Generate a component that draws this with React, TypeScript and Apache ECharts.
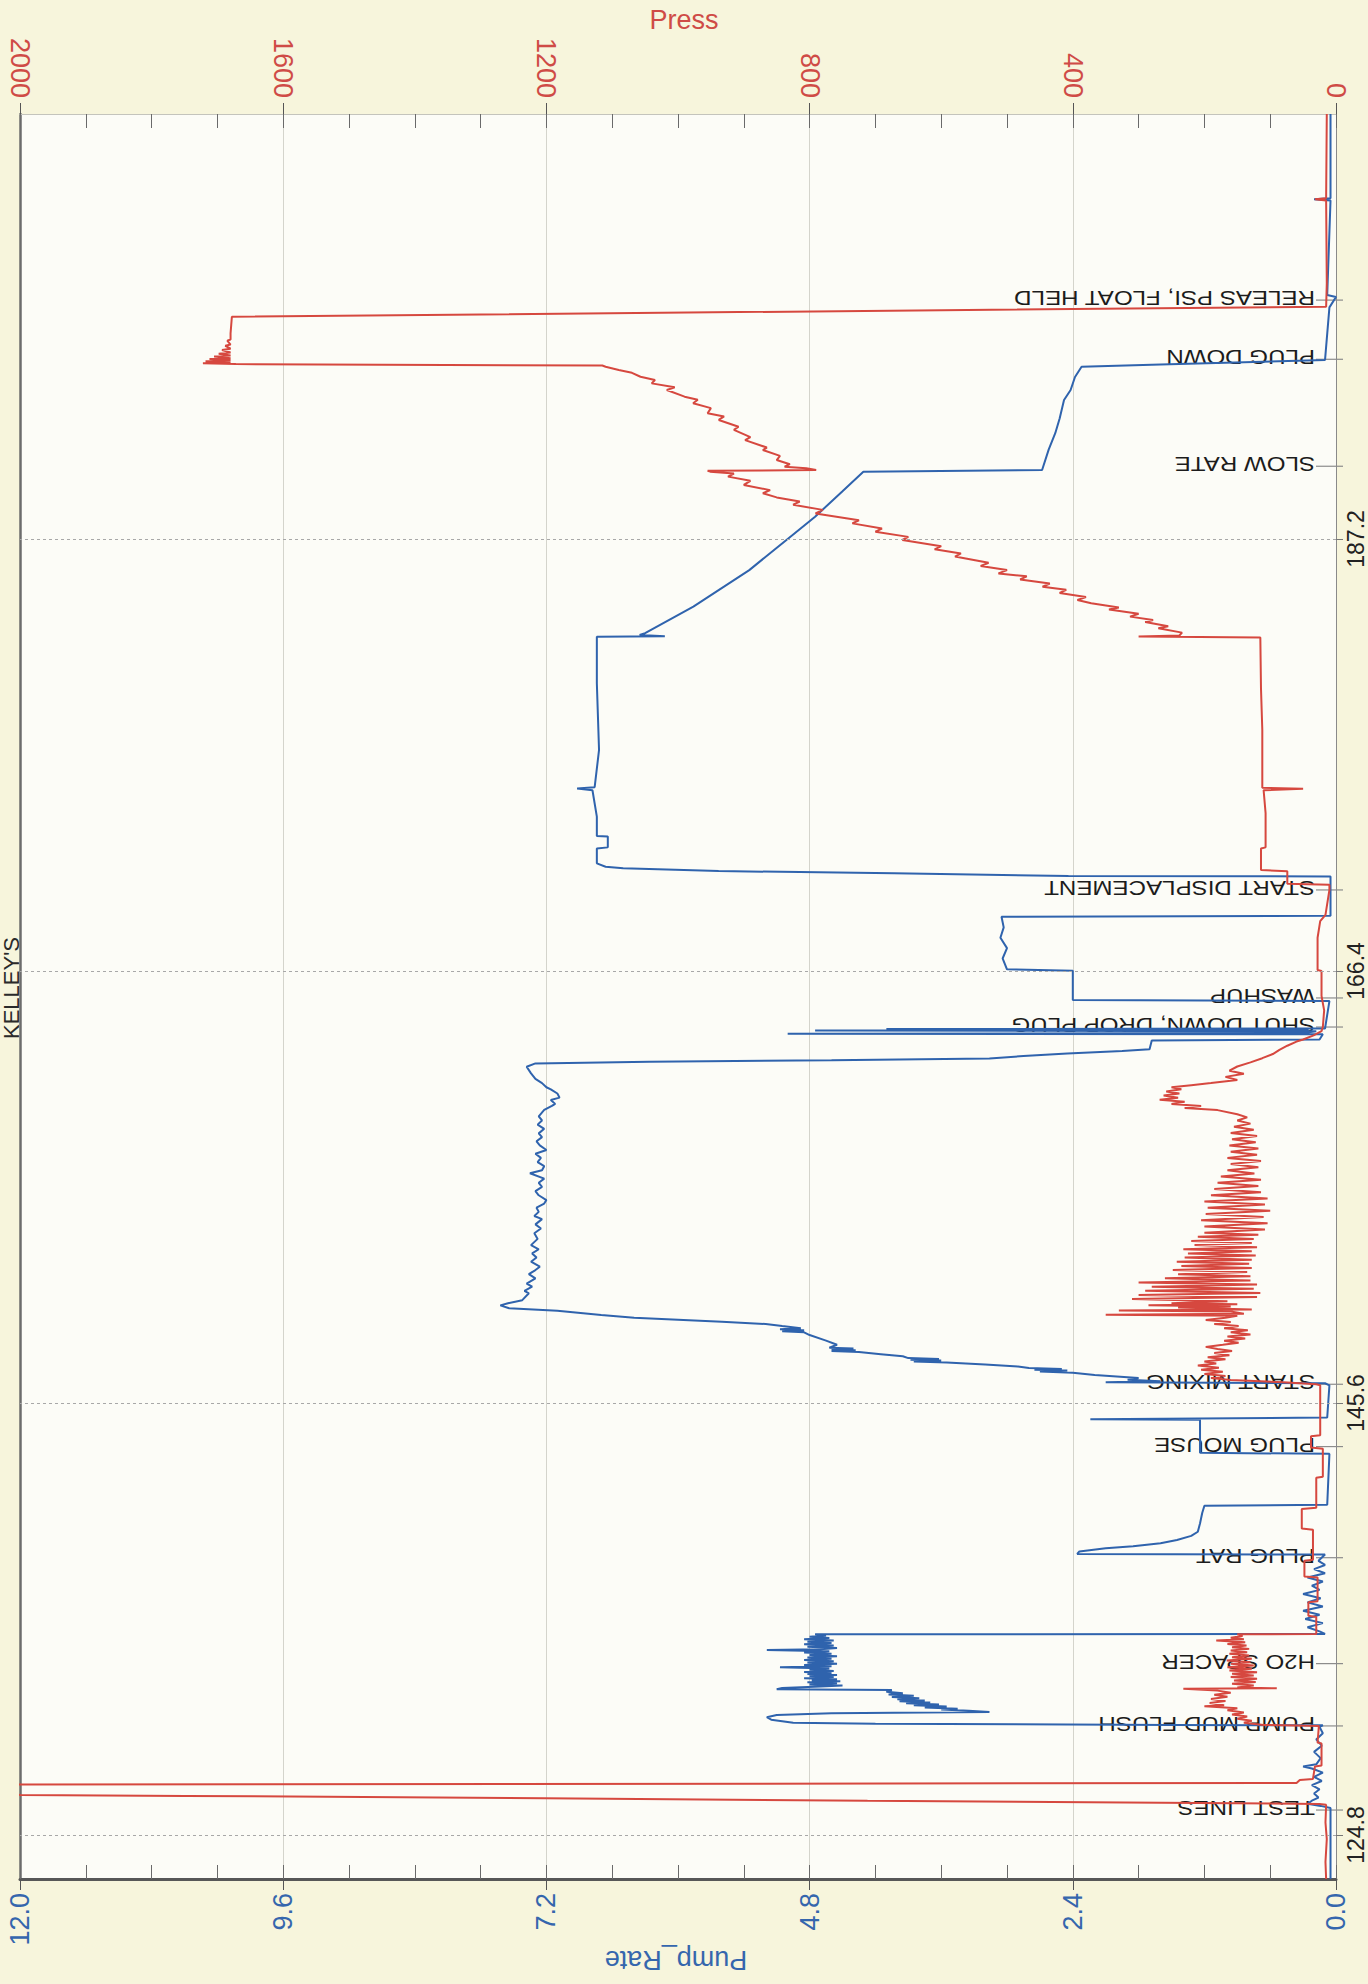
import React, { useEffect, useRef } from 'react';
import * as echarts from 'echarts';

const FONT = 'Liberation Sans, Arial, sans-serif';
const BLUE = '#2f63ad';
const RED = '#d6483f';
const LABEL_BLUE = '#3566ad';
const LABEL_RED = '#cf4b46';

const TIME_MIN = 122.68;
const TIME_MAX = 207.66;
const timeTicks = [124.8, 145.6, 166.4, 187.2];

const eventNames = [
  'TEST LINES', 'PUMP MUD FLUSH', 'H2O SPACER', 'PLUG RAT', 'PLUG MOUSE', 'START MIXING',
  'SHUT DOWN, DROP PLUG', 'WASHUP', 'START DISPLACEMENT', 'SLOW RATE', 'PLUG DOWN', 'RELEAS PSI, FLOAT HELD',
];
const eventTimes = [126.0, 130.05, 133.05, 138.15, 143.5, 146.5, 163.7, 165.1, 170.3, 190.7, 195.85, 198.7];

// ---- Press (time, psi) ----
const pressPreTest = [
  [122.68, 15], [123.5, 16], [124.6, 14], [125.4, 16], [126.25, 15],
];
const pressTestLines = [
  [126.29, 25], [126.33, 154], [126.45, 712], [126.57, 1203], [126.68, 1748], [126.73, 2000],
  [126.85, 2350], [127.1, 2380], [127.2, 2150], [127.23, 2000], [127.3, 60],
];
const pressPreFlush = [
  [127.45, 55], [127.5, 35], [128.1, 32], [128.15, 22], [129.2, 22], [129.25, 28], [130.05, 26],
];
const pressFlushSpacer = [
  [130.1, 110], [130.2, 140], [130.3, 128], [130.4, 150], [130.5, 135], [130.6, 158], [130.7, 140],
  [130.8, 165], [130.9, 150], [131.0, 200], [131.05, 170], [131.15, 192], [131.25, 168], [131.35, 190],
  [131.45, 165], [131.55, 185], [131.65, 160], [131.75, 180], [131.84, 232], [131.86, 90], [131.9, 150],
  [132.0, 125], [132.08, 158], [132.16, 122], [132.24, 155], [132.32, 120], [132.4, 160], [132.48, 125],
  [132.56, 158], [132.64, 120], [132.72, 162], [132.8, 128], [132.88, 165], [132.96, 125], [133.04, 160],
  [133.12, 130], [133.2, 166], [133.28, 128], [133.36, 158], [133.44, 132], [133.52, 162], [133.6, 135],
  [133.68, 160], [133.76, 132], [133.84, 158], [133.92, 136], [134.0, 165], [134.08, 138], [134.16, 182],
  [134.22, 140], [134.3, 160], [134.38, 142], [134.46, 150], [134.48, 30],
];
const pressPlugs = [
  [134.6, 30], [135.3, 30], [135.35, 42], [136.0, 42], [136.05, 28], [137.2, 28], [137.25, 48], [138.0, 48],
  [138.05, 35], [139.5, 35], [139.55, 52], [140.5, 52], [140.55, 30], [142.0, 30], [142.05, 20], [143.4, 20],
  [143.45, 38], [144.0, 38], [144.05, 24], [146.45, 24],
];
const pressMixing = [
  [146.5, 30], [146.6, 80], [146.7, 160], [146.8, 190], [146.9, 168], [147.0, 200], [147.1, 172], [147.2, 205],
  [147.3, 178], [147.4, 210], [147.5, 182], [147.6, 200], [147.7, 168], [147.8, 195], [147.9, 162], [148.0, 185],
  [148.1, 158], [148.2, 180], [148.3, 198], [148.4, 172], [148.5, 148], [148.6, 170], [148.7, 138], [148.8, 165],
  [148.9, 130], [149.0, 160], [149.1, 134], [149.2, 170], [149.3, 148], [149.4, 185], [149.5, 160], [149.6, 198],
  [149.7, 168], [149.8, 150], [149.85, 350], [149.9, 140], [150.0, 160], [150.05, 330], [150.1, 128], [150.2, 240],
  [150.25, 160], [150.3, 285], [150.35, 150], [150.4, 250], [150.5, 165], [150.6, 310], [150.7, 120], [150.8, 300],
  [150.9, 115], [151.0, 290], [151.1, 125], [151.2, 280], [151.3, 120], [151.4, 300], [151.5, 130], [151.6, 260],
  [151.7, 130], [151.8, 240], [151.9, 135], [152.0, 248], [152.1, 128], [152.2, 235], [152.3, 132], [152.4, 242],
  [152.5, 128], [152.6, 230], [152.7, 122], [152.8, 225], [152.9, 128], [153.0, 232], [153.1, 120], [153.2, 215],
  [153.3, 128], [153.4, 220], [153.5, 125], [153.6, 210], [153.7, 118], [153.8, 200], [153.95, 108], [154.1, 200],
  [154.25, 104], [154.4, 205], [154.55, 110], [154.7, 198], [154.85, 100], [155.0, 195], [155.15, 108], [155.3, 200],
  [155.45, 104], [155.6, 190], [155.75, 114], [155.9, 185], [156.05, 118], [156.2, 180], [156.35, 114], [156.5, 175],
  [156.65, 124], [156.8, 165], [156.95, 118], [157.1, 160], [157.25, 114], [157.4, 165], [157.55, 120], [157.7, 160],
  [157.85, 118], [158.0, 162], [158.15, 122], [158.3, 158], [158.45, 120], [158.6, 160], [158.75, 125], [158.9, 155],
  [159.05, 130], [159.2, 150], [159.35, 135], [159.5, 150], [159.7, 180], [159.8, 230], [159.9, 205], [160.0, 250],
  [160.1, 230], [160.2, 268], [160.3, 240], [160.4, 262], [160.5, 238], [160.6, 258], [160.7, 235], [160.8, 250],
  [160.9, 220], [161.0, 190], [161.15, 150], [161.3, 168], [161.45, 140], [161.6, 162], [161.8, 150], [162.0, 130],
  [162.2, 112], [162.4, 96], [162.6, 86], [162.8, 74], [163.0, 60], [163.1, 50], [163.3, 34], [163.5, 22],
];
const pressWashup = [
  [163.7, 20], [164.5, 18], [165.2, 22], [166.4, 22], [166.45, 28], [168.0, 28], [168.8, 24], [169.1, 16],
  [170.3, 10], [170.55, 10], [170.6, 74], [171.2, 74], [171.26, 114],
];
const pressDisplacement = [
  [172.3, 114], [172.35, 107], [174.0, 107], [175.1, 110], [175.17, 50], [175.22, 112], [178.0, 112],
  [180.0, 114], [182.45, 115],
];
const pressLift = [
  [182.5, 300], [182.55, 238], [182.69, 234], [182.9, 270], [183.0, 255], [183.2, 290], [183.3, 278],
  [183.46, 313], [183.6, 300], [183.8, 345], [183.9, 330], [184.1, 372], [184.26, 393], [184.4, 380],
  [184.6, 420], [184.75, 410], [184.9, 446], [185.05, 435], [185.25, 480], [185.4, 470], [185.54, 513],
  [185.7, 500], [185.9, 540], [186.05, 528], [186.35, 579], [186.5, 570], [186.7, 610], [186.85, 600],
  [187.15, 659], [187.3, 650], [187.55, 700], [187.7, 690], [187.95, 735], [188.1, 725], [188.43, 791],
  [188.6, 780], [188.85, 825], [189.0, 815], [189.2, 850], [189.4, 871], [189.55, 860], [189.8, 900],
  [190.0, 890], [190.2, 924], [190.35, 915], [190.44, 951], [190.48, 955], [190.52, 790], [190.6, 805],
  [190.68, 838], [190.8, 830], [191.0, 850], [191.2, 845], [191.48, 871], [191.6, 865], [191.96, 898],
  [192.1, 890], [192.45, 915], [192.6, 908], [192.93, 938], [193.1, 930], [193.25, 955], [193.5, 950],
  [193.73, 977], [193.9, 970], [194.05, 990], [194.37, 1017], [194.5, 1005], [194.69, 1040], [194.85, 1035],
  [195.01, 1057], [195.2, 1070], [195.33, 1090], [195.49, 1110], [195.55, 1115],
];
const pressPlugBump = [
  [195.62, 1672], [195.66, 1722], [195.7, 1680], [195.76, 1718], [195.8, 1680], [195.86, 1712], [195.9, 1680],
  [195.98, 1705], [196.03, 1680], [196.12, 1698], [196.18, 1680], [196.3, 1693], [196.36, 1680], [196.5, 1688],
  [196.56, 1680], [196.75, 1685], [196.8, 1680], [197.1, 1680], [197.9, 1678], [198.38, 15],
];
const pressAfter = [
  [199.5, 14], [203.5, 15], [203.55, 32], [203.6, 15], [207.66, 14],
];

// ---- Pump_Rate (time, bbl/min) ----
const ratePreFlush = [
  [122.68, 0.05], [126.1, 0.05], [126.2, 0.14], [126.3, 0.26], [126.45, 0.22], [126.6, 0.16], [126.8, 0.2],
  [127.0, 0.15], [127.2, 0.22], [127.4, 0.13], [127.6, 0.2], [127.8, 0.12], [128.0, 0.22], [128.1, 0.3],
  [128.2, 0.18], [128.5, 0.14], [128.8, 0.2], [129.1, 0.13], [129.4, 0.18], [129.7, 0.12], [130.0, 0.15],
  [130.08, 0.12],
];
const rateFlushSpacer = [
  [130.1, 1.5], [130.15, 4.2], [130.2, 4.95], [130.35, 5.15], [130.47, 5.19], [130.58, 5.1], [130.66, 4.6],
  [130.72, 3.16], [130.78, 3.35], [130.84, 3.6], [130.88, 3.45], [130.94, 3.75], [130.98, 3.55], [131.04, 3.85],
  [131.08, 3.62], [131.14, 3.92], [131.18, 3.7], [131.24, 3.98], [131.28, 3.75], [131.34, 4.0], [131.38, 3.8],
  [131.44, 4.05], [131.5, 3.85], [131.56, 4.08], [131.62, 3.95], [131.7, 4.1], [131.78, 4.05], [131.82, 5.1],
  [131.88, 5.05], [131.95, 4.7], [132.0, 4.5], [132.05, 4.8], [132.1, 4.55], [132.15, 4.82], [132.2, 4.52],
  [132.25, 4.78], [132.3, 4.55], [132.35, 4.85], [132.4, 4.58], [132.45, 4.8], [132.5, 4.55], [132.55, 4.82],
  [132.6, 4.6], [132.65, 4.85], [132.7, 4.58], [132.75, 4.8], [132.82, 4.62], [132.88, 5.07], [132.92, 4.6],
  [132.98, 4.85], [133.04, 4.55], [133.1, 4.82], [133.16, 4.58], [133.22, 4.85], [133.28, 4.6], [133.34, 4.82],
  [133.4, 4.55], [133.46, 4.8], [133.52, 4.6], [133.58, 4.85], [133.64, 4.62], [133.7, 5.19], [133.74, 4.7],
  [133.8, 4.55], [133.86, 4.82], [133.92, 4.58], [133.98, 4.85], [134.04, 4.6], [134.1, 4.82], [134.16, 4.58],
  [134.22, 4.85], [134.28, 4.62], [134.34, 4.8], [134.4, 4.65], [134.46, 4.75], [134.48, 0.1],
];
const ratePlugs = [
  [134.6, 0.15], [134.8, 0.26], [135.0, 0.12], [135.2, 0.28], [135.4, 0.15], [135.6, 0.3], [135.8, 0.12],
  [136.0, 0.26], [136.2, 0.14], [136.4, 0.3], [136.6, 0.15], [136.8, 0.22], [137.0, 0.12], [137.2, 0.26],
  [137.4, 0.1], [137.6, 0.2], [137.8, 0.1], [138.0, 0.16], [138.3, 0.1],
  [138.33, 2.36], [138.45, 2.34], [138.6, 2.1], [138.7, 1.85], [138.85, 1.6], [139.0, 1.45], [139.2, 1.32],
  [139.4, 1.26], [139.8, 1.24], [140.3, 1.22], [140.65, 1.2], [140.7, 0.08],
  [143.15, 0.06], [143.2, 1.24], [144.79, 1.24], [144.82, 2.24], [144.9, 0.08], [146.45, 0.06],
];
const rateMixing = [
  [146.55, 0.1], [146.6, 2.1], [146.65, 1.6], [146.72, 1.9], [146.8, 1.8], [146.95, 2.2], [147.05, 2.4],
  [147.12, 2.7], [147.16, 2.45], [147.2, 2.75], [147.24, 2.5], [147.28, 2.8], [147.35, 2.9], [147.45, 3.2],
  [147.55, 3.55], [147.6, 3.85], [147.64, 3.6], [147.68, 3.88], [147.72, 3.62], [147.76, 3.9], [147.85, 3.95],
  [147.95, 4.15], [148.05, 4.35], [148.1, 4.6], [148.14, 4.38], [148.18, 4.6], [148.22, 4.4], [148.26, 4.62],
  [148.4, 4.55], [148.6, 4.65], [148.87, 4.8], [149.0, 4.85], [149.05, 5.05], [149.1, 4.85], [149.15, 5.07],
  [149.2, 4.88], [149.3, 5.05], [149.4, 5.2], [149.51, 5.6], [149.7, 6.4], [149.84, 6.7], [150.04, 7.1],
  [150.16, 7.54], [150.3, 7.62], [150.4, 7.55], [150.55, 7.42], [150.88, 7.36], [151.0, 7.4], [151.2, 7.33],
  [151.35, 7.38], [151.6, 7.3], [151.8, 7.36], [152.0, 7.3], [152.16, 7.26], [152.4, 7.34], [152.6, 7.29],
  [152.8, 7.33], [153.0, 7.27], [153.2, 7.34], [153.5, 7.28], [153.77, 7.31], [154.0, 7.25], [154.2, 7.3],
  [154.45, 7.24], [154.6, 7.31], [154.8, 7.27], [155.0, 7.29], [155.2, 7.22], [155.37, 7.2], [155.6, 7.27],
  [155.8, 7.3], [156.0, 7.24], [156.2, 7.27], [156.4, 7.22], [156.66, 7.35], [156.8, 7.24], [157.0, 7.22],
  [157.2, 7.28], [157.4, 7.25], [157.6, 7.3], [157.78, 7.2], [158.0, 7.26], [158.2, 7.29], [158.4, 7.24],
  [158.58, 7.27], [158.8, 7.22], [159.0, 7.28], [159.2, 7.24], [159.4, 7.27], [159.71, 7.22], [159.9, 7.15],
  [160.0, 7.12], [160.19, 7.16], [160.3, 7.08], [160.5, 7.1], [160.7, 7.16], [160.8, 7.2], [161.0, 7.24],
  [161.2, 7.3], [161.47, 7.34], [161.79, 7.38], [161.95, 7.3],
];
const rateShutdown = [
  [162.03, 6.26], [162.1, 4.6], [162.19, 3.16], [162.3, 2.85], [162.43, 2.45], [162.55, 1.95], [162.63, 1.7],
  [163.05, 1.68], [163.1, 0.15], [163.35, 0.12], [163.38, 5.0], [163.41, 0.3], [163.5, 0.18], [163.53, 4.75],
  [163.56, 0.25], [163.6, 4.1], [163.63, 0.1], [164.95, 0.06],
];
const rateWashup = [
  [165.0, 2.4], [166.41, 2.4], [166.48, 3.0], [167.0, 3.04], [167.5, 3.0], [168.0, 3.06], [168.5, 3.03],
  [169.01, 3.05], [169.06, 0.05], [170.95, 0.05],
];
const rateDisplacement = [
  [170.97, 2.44], [171.1, 4.03], [171.21, 5.63], [171.34, 6.5], [171.42, 6.66], [171.58, 6.74], [172.3, 6.74],
  [172.35, 6.64], [172.87, 6.64], [172.9, 6.74], [173.83, 6.74], [175.1, 6.78], [175.19, 6.92], [175.25, 6.76],
  [177.04, 6.72], [180.25, 6.74], [182.49, 6.74], [182.52, 6.12], [182.58, 6.35], [182.66, 6.3], [183.94, 5.86],
  [185.7, 5.35], [187.2, 5.0], [188.27, 4.75], [189.5, 4.5], [190.44, 4.31],
];
const rateSlow = [
  [190.52, 2.68], [191.5, 2.62], [192.29, 2.56], [193.0, 2.52], [193.89, 2.48], [194.37, 2.42], [195.0, 2.38],
  [195.49, 2.32], [195.6, 1.6], [195.82, 0.1], [198.35, 0.06], [198.85, 0.0], [198.95, 0.08], [203.5, 0.05],
  [203.55, 0.2], [203.6, 0.05], [207.66, 0.05],
];

export default function App() {
  const ref = useRef<HTMLDivElement>(null);

  useEffect(() => {
    document.body.style.margin = '0';
    const chart = echarts.init(ref.current as HTMLDivElement, null, { renderer: 'svg' });
    const toXY = (arr: number[][]) => arr.map(([t, v]) => [v, t]);

    const pressData = toXY([
      ...pressPreTest, ...pressTestLines, ...pressPreFlush, ...pressFlushSpacer, ...pressPlugs,
      ...pressMixing, ...pressWashup, ...pressDisplacement, ...pressLift, ...pressPlugBump, ...pressAfter,
    ]);
    const rateData = toXY([
      ...ratePreFlush, ...rateFlushSpacer, ...ratePlugs, ...rateMixing, ...rateShutdown,
      ...rateWashup, ...rateDisplacement, ...rateSlow,
    ]);

    const gridBox = { left: 20, right: 32, top: 114, bottom: 105 };

    const option: any = {
      animation: false,
      backgroundColor: '#f7f5dc',
      textStyle: { fontFamily: FONT },
      grid: [
        { ...gridBox, show: true, backgroundColor: '#fcfcf7', borderWidth: 0, containLabel: false, outerBoundsMode: 'none' },
        { ...gridBox, show: false, containLabel: false, outerBoundsMode: 'none' },
      ],
      xAxis: [
        {
          gridIndex: 0, type: 'value', position: 'bottom', min: 0, max: 12, interval: 2.4, inverse: true,
          axisLine: { show: true, onZero: false, lineStyle: { color: '#575757', width: 3 } },
          axisTick: { show: true, inside: true, length: 14, lineStyle: { color: '#6a6a6a', width: 1 } },
          minorTick: { show: true, splitNumber: 4, length: 14, lineStyle: { color: '#6a6a6a', width: 1 } },
          splitLine: { show: true, lineStyle: { color: '#d4d4cc', width: 1 } },
          axisLabel: {
            rotate: 90, margin: 14, fontSize: 27, color: LABEL_BLUE, fontFamily: FONT,
            formatter: (v: number) => v.toFixed(1),
          },
        },
        {
          gridIndex: 0, type: 'value', position: 'top', min: 0, max: 2000, interval: 400, inverse: true,
          axisLine: { show: true, onZero: false, lineStyle: { color: '#c4c4bc', width: 1 } },
          axisTick: { show: true, inside: true, length: 14, lineStyle: { color: '#6a6a6a', width: 1 } },
          minorTick: { show: true, splitNumber: 4, length: 14, lineStyle: { color: '#6a6a6a', width: 1 } },
          splitLine: { show: false },
          axisLabel: {
            rotate: 90, margin: 16, fontSize: 27, color: LABEL_RED, fontFamily: FONT,
            formatter: (v: number) => String(Math.round(v)),
          },
        },
        {
          gridIndex: 1, type: 'value', position: 'bottom', min: 0, max: 12, interval: 2.4, inverse: true,
          axisLine: { show: false, onZero: false },
          axisTick: { show: true, inside: false, length: 11, lineStyle: { color: '#555', width: 1 } },
          axisLabel: { show: false }, splitLine: { show: false },
        },
        {
          gridIndex: 1, type: 'value', position: 'top', min: 0, max: 2000, interval: 400, inverse: true,
          axisLine: { show: false, onZero: false },
          axisTick: { show: true, inside: false, length: 11, lineStyle: { color: '#555', width: 1 } },
          axisLabel: { show: false }, splitLine: { show: false },
        },
      ],
      yAxis: [
        {
          gridIndex: 0, type: 'value', position: 'right', min: TIME_MIN, max: TIME_MAX,
          axisLine: { show: true, onZero: false, lineStyle: { color: '#8a8a8a', width: 1 } },
          axisTick: { show: true, customValues: timeTicks, length: 7, lineStyle: { color: '#777', width: 1 } },
          axisLabel: {
            show: true, customValues: timeTicks, rotate: 90, margin: 8, fontSize: 23, color: '#222',
            fontFamily: FONT, formatter: (v: number) => v.toFixed(1),
          },
          splitLine: { show: false },
        },
        {
          gridIndex: 0, type: 'value', position: 'left', min: TIME_MIN, max: TIME_MAX,
          axisLine: { show: true, onZero: false, lineStyle: { color: '#6c6c6c', width: 2.5 } },
          axisTick: { show: false }, axisLabel: { show: false }, splitLine: { show: false },
        },
        { gridIndex: 1, type: 'value', min: TIME_MIN, max: TIME_MAX, show: false },
      ],
      graphic: [
        {
          type: 'text', x: 684, y: 20,
          style: { text: 'Press', fill: LABEL_RED, fontSize: 27, fontFamily: FONT, align: 'center', verticalAlign: 'middle' },
        },
        {
          type: 'text', x: 676, y: 1960, rotation: Math.PI,
          style: { text: 'Pump_Rate', fill: LABEL_BLUE, fontSize: 27, fontFamily: FONT, align: 'center', verticalAlign: 'middle' },
        },
        {
          type: 'text', x: 11, y: 988, rotation: Math.PI / 2,
          style: { text: "KELLEY'S", fill: '#2a2a2a', fontSize: 22, fontFamily: FONT, align: 'center', verticalAlign: 'middle' },
        },
      ],
      series: [
        {
          name: 'Events', type: 'custom', xAxisIndex: 0, yAxisIndex: 0, z: 1, silent: true,
          data: eventTimes.map((t, i) => [0, t, i]),
          encode: { x: 0, y: 1 },
          renderItem: (params: any, api: any) => {
            const p = api.coord([0, api.value(1)]);
            return {
              type: 'group',
              children: [
                {
                  type: 'line',
                  shape: { x1: p[0] - 20, y1: p[1], x2: p[0] + 7, y2: p[1] },
                  style: { stroke: '#8c8c8c', lineWidth: 1.2 },
                },
                {
                  type: 'text', x: p[0] - 21, y: p[1] - 2, rotation: Math.PI, scaleX: 1.15,
                  style: {
                    text: eventNames[params.dataIndex], fill: '#1c1c1c', fontSize: 21, fontFamily: FONT,
                    align: 'left', verticalAlign: 'middle',
                  },
                },
              ],
            };
          },
        },
        {
          name: 'Pump_Rate', type: 'line', xAxisIndex: 0, yAxisIndex: 0, data: rateData,
          showSymbol: false, symbol: 'none', clip: true, z: 3,
          lineStyle: { color: BLUE, width: 2 },
          markLine: {
            silent: true, symbol: ['none', 'none'], label: { show: false },
            lineStyle: { color: '#a8a8a8', type: [3, 3], width: 1 },
            data: timeTicks.map((t) => ({ yAxis: t })),
          },
        },
        {
          name: 'Press', type: 'line', xAxisIndex: 1, yAxisIndex: 0, data: pressData,
          showSymbol: false, symbol: 'none', clip: true, z: 4,
          lineStyle: { color: RED, width: 2 },
        },
      ],
    };

    chart.setOption(option);
    return () => chart.dispose();
  }, []);

  return <div ref={ref} style={{ width: 1368, height: 1984 }} />;
}
